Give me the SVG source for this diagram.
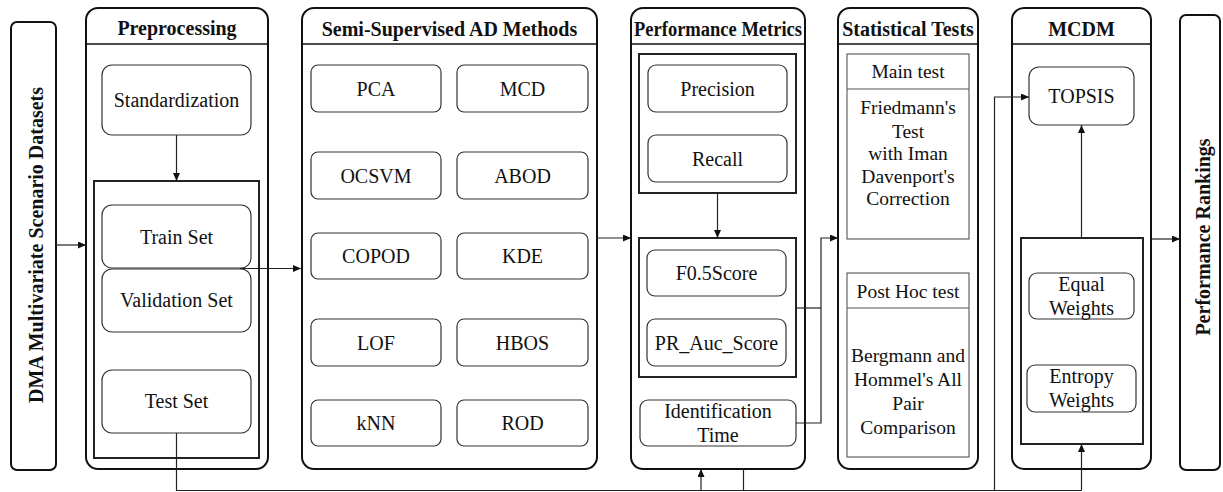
<svg xmlns="http://www.w3.org/2000/svg" width="1223" height="492" viewBox="0 0 1223 492">
<style>
text{font-family:"Liberation Serif","Times New Roman",serif;fill:#111;text-anchor:middle}
.t{font-size:20px;font-weight:bold}
.n{font-size:20px}
.s{font-size:19.5px}
.lane{fill:#fff;stroke:#111;stroke-width:2}
.hd{stroke:#111;stroke-width:1.6;fill:none}
.grp{fill:none;stroke:#222;stroke-width:2}
.box{fill:#fff;stroke:#333;stroke-width:1.2}
.tb{fill:#fff;stroke:#555;stroke-width:1.1}
.c{fill:none;stroke:#222;stroke-width:1.2}
</style>
<defs>
<marker id="ah" markerWidth="8" markerHeight="7" refX="8" refY="3.5" orient="auto" markerUnits="userSpaceOnUse">
<path d="M0,0 L8,3.5 L0,7 z" fill="#111"/>
</marker>
</defs>
<rect width="1223" height="492" fill="#fff"/>

<g id="datasets">
<rect x="11" y="22" width="45" height="448" rx="6" class="lane"/>
<text class="t" transform="translate(43,245) rotate(-90)">DMA Multivariate Scenario Datasets</text>
</g>

<g id="preprocessing">
<rect x="86" y="8" width="182" height="461" rx="12" class="lane"/>
<line x1="86" y1="44" x2="268" y2="44" class="hd"/>
<text class="t" x="177" y="35">Preprocessing</text>
<g id="standardization"><rect x="102" y="65" width="149" height="70" rx="10" class="box"/><text class="n" x="176.5" y="107">Standardization</text></g>
<rect x="94" y="181" width="165" height="277" class="grp"/>
<g id="train"><rect x="102" y="205" width="149" height="63" rx="10" class="box"/><text class="n" x="176.5" y="243.5">Train Set</text></g>
<g id="validation"><rect x="102" y="269" width="149" height="63" rx="10" class="box"/><text class="n" x="176.5" y="307">Validation Set</text></g>
<g id="test"><rect x="102" y="370" width="149" height="63" rx="10" class="box"/><text class="n" x="176.5" y="408">Test Set</text></g>
</g>

<g id="ad-methods">
<rect x="302" y="8" width="295" height="461" rx="12" class="lane"/>
<line x1="302" y1="44" x2="597" y2="44" class="hd"/>
<text class="t" x="449.5" y="36">Semi-Supervised AD Methods</text>
<g id="pca"><rect x="311" y="65" width="130" height="47" rx="7" class="box"/><text class="n" x="376" y="95.5">PCA</text></g>
<g id="mcd"><rect x="457" y="65" width="131" height="47" rx="7" class="box"/><text class="n" x="522.5" y="95.5">MCD</text></g>
<g id="ocsvm"><rect x="311" y="152" width="130" height="47" rx="7" class="box"/><text class="n" x="376" y="182.5">OCSVM</text></g>
<g id="abod"><rect x="457" y="152" width="131" height="47" rx="7" class="box"/><text class="n" x="522.5" y="182.5">ABOD</text></g>
<g id="copod"><rect x="311" y="233" width="130" height="46" rx="7" class="box"/><text class="n" x="376" y="263">COPOD</text></g>
<g id="kde"><rect x="457" y="233" width="131" height="46" rx="7" class="box"/><text class="n" x="522.5" y="263">KDE</text></g>
<g id="lof"><rect x="311" y="319" width="130" height="47" rx="7" class="box"/><text class="n" x="376" y="349.5">LOF</text></g>
<g id="hbos"><rect x="457" y="319" width="131" height="47" rx="7" class="box"/><text class="n" x="522.5" y="349.5">HBOS</text></g>
<g id="knn"><rect x="311" y="400" width="130" height="46" rx="7" class="box"/><text class="n" x="376" y="430">kNN</text></g>
<g id="rod"><rect x="457" y="400" width="131" height="46" rx="7" class="box"/><text class="n" x="522.5" y="430">ROD</text></g>
</g>

<g id="metrics">
<rect x="631" y="8" width="174" height="461" rx="12" class="lane"/>
<line x1="631" y1="44" x2="805" y2="44" class="hd"/>
<text class="t" x="718" y="36" textLength="168" lengthAdjust="spacingAndGlyphs">Performance Metrics</text>
<rect x="639" y="54" width="157" height="139" class="grp"/>
<g id="precision"><rect x="648" y="65" width="139" height="47" rx="8" class="box"/><text class="n" x="717.5" y="95.5">Precision</text></g>
<g id="recall"><rect x="648" y="135" width="139" height="47" rx="8" class="box"/><text class="n" x="717.5" y="165.5">Recall</text></g>
<rect x="639" y="238" width="157" height="139" class="grp"/>
<g id="f05"><rect x="647" y="250" width="139" height="46" rx="8" class="box"/><text class="n" x="716.5" y="280">F0.5Score</text></g>
<g id="prauc"><rect x="647" y="319" width="139" height="47" rx="8" class="box"/><text class="n" x="716.5" y="349.5">PR_Auc_Score</text></g>
<g id="idtime"><rect x="640" y="400" width="156" height="46" rx="8" class="box"/><text class="n" x="718" y="418">Identification</text><text class="n" x="718" y="442">Time</text></g>
</g>

<g id="stats">
<rect x="838" y="8" width="140" height="461" rx="12" class="lane"/>
<line x1="838" y1="44" x2="978" y2="44" class="hd"/>
<text class="t" x="908" y="36">Statistical Tests</text>
<g id="main-test">
<rect x="847" y="54" width="122" height="185" class="tb"/>
<line x1="847" y1="89" x2="969" y2="89" class="tb"/>
<text class="s" x="908" y="78">Main test</text>
<text class="s" x="908" y="114">Friedmann's</text>
<text class="s" x="908" y="138">Test</text>
<text class="s" x="908" y="160">with Iman</text>
<text class="s" x="908" y="183">Davenport's</text>
<text class="s" x="908" y="205">Correction</text>
</g>
<g id="posthoc-test">
<rect x="847" y="273" width="122" height="184" class="tb"/>
<line x1="847" y1="308" x2="969" y2="308" class="tb"/>
<text class="s" x="908" y="298">Post Hoc test</text>
<text class="s" x="908" y="362">Bergmann and</text>
<text class="s" x="908" y="386">Hommel's All</text>
<text class="s" x="908" y="410">Pair</text>
<text class="s" x="908" y="434">Comparison</text>
</g>
</g>

<g id="mcdm">
<rect x="1012" y="8" width="139" height="461" rx="12" class="lane"/>
<line x1="1012" y1="44" x2="1151" y2="44" class="hd"/>
<text class="t" x="1081.5" y="36">MCDM</text>
<g id="topsis"><rect x="1029" y="67" width="105" height="58" rx="10" class="box"/><text class="n" x="1081.5" y="103">TOPSIS</text></g>
<rect x="1021" y="238" width="122" height="206" class="grp"/>
<g id="equal"><rect x="1029" y="273" width="105" height="46" rx="8" class="box"/><text class="n" x="1081.5" y="291">Equal</text><text class="n" x="1081.5" y="315">Weights</text></g>
<g id="entropy"><rect x="1027" y="365" width="109" height="47" rx="8" class="box"/><text class="n" x="1081.5" y="383">Entropy</text><text class="n" x="1081.5" y="407">Weights</text></g>
</g>

<g id="rankings">
<rect x="1180" y="15" width="40" height="455" rx="6" class="lane"/>
<text class="t" transform="translate(1210,237) rotate(-90)">Performance Rankings</text>
</g>

<g id="connectors">
<line x1="56" y1="245" x2="86" y2="245" class="c" marker-end="url(#ah)"/>
<line x1="176.5" y1="135" x2="176.5" y2="181" class="c" marker-end="url(#ah)"/>
<line x1="240" y1="268.5" x2="301" y2="268.5" class="c" marker-end="url(#ah)"/>
<line x1="597" y1="238" x2="631" y2="238" class="c" marker-end="url(#ah)"/>
<line x1="717.5" y1="193" x2="717.5" y2="238" class="c" marker-end="url(#ah)"/>
<polyline points="796,308 821,308" class="c"/>
<polyline points="796,423 821,423 821,238 838,238" class="c" marker-end="url(#ah)"/>
<line x1="1081.5" y1="238" x2="1081.5" y2="125" class="c" marker-end="url(#ah)"/>
<line x1="1151" y1="239" x2="1180" y2="239" class="c" marker-end="url(#ah)"/>
<polyline points="176.5,433 176.5,490.5 1081.5,490.5" class="c"/>
<line x1="701" y1="490.5" x2="701" y2="469" class="c" marker-end="url(#ah)"/>
<line x1="743.5" y1="469" x2="743.5" y2="490.5" class="c"/>
<polyline points="994.5,490.5 994.5,97 1029,97" class="c" marker-end="url(#ah)"/>
<line x1="1081.5" y1="490.5" x2="1081.5" y2="444" class="c" marker-end="url(#ah)"/>
</g>
</svg>
